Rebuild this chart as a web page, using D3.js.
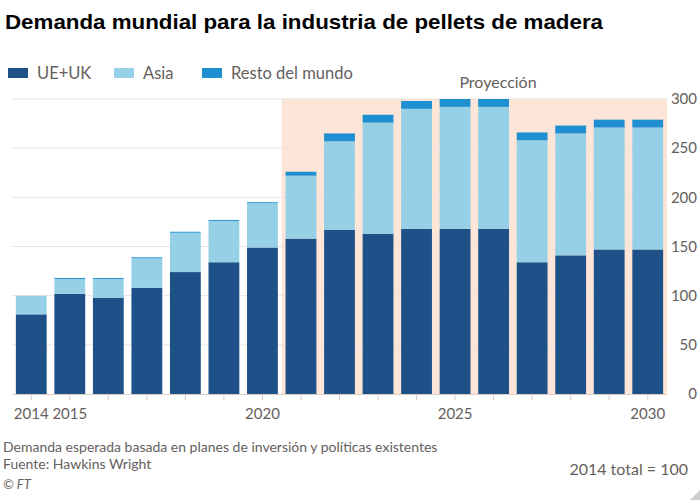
<!DOCTYPE html>
<html>
<head>
<meta charset="utf-8">
<script src="https://cdn.jsdelivr.net/npm/d3@7"></script>
<style>
  body { margin: 0; background: #fff; }
  svg text { font-family: Lato, "Open Sans", sans-serif; fill: #66605c; }
</style>
</head>
<body>
<div id="chart"></div>
<script>
// Data (2014 total = 100)
const years = [2014, 2015, 2016, 2017, 2018, 2019, 2020, 2021, 2022, 2023, 2024, 2025, 2026, 2027, 2028, 2029, 2030];
const ueUk  = [81, 102, 98, 108, 124, 134, 149, 158, 167, 163, 168, 168, 168, 134, 141, 147, 147];
const asia  = [19, 15, 19, 30, 40, 42, 45, 64, 90, 113, 122, 124, 124, 124, 124, 124, 124];
const resto = [0, 1, 1, 1, 1, 1, 1, 4, 8, 8, 8, 8, 8, 8, 8, 8, 8];
const seriesNames = ["UE+UK", "Asia", "Resto del mundo"];
const colors = ["#1f5189", "#96d0e6", "#1e8fd0"];
const yTicks = [0, 50, 100, 150, 200, 250, 300];
const xLabels = [2014, 2015, 2020, 2025, 2030];
const projectionStart = 2021;

const width = 700, height = 500;
const svg = d3.select("#chart").append("svg")
    .attr("width", width)
    .attr("height", height);

const x = d3.scaleBand()
    .domain(years)
    .range([12, 667])
    .paddingInner(0.2)
    .paddingOuter(0.1);

const y = d3.scaleLinear()
    .domain([0, 300])
    .range([394, 99]);

// Title
svg.append("text")
    .attr("x", 5)
    .attr("y", 29)
    .attr("textLength", 598)
    .attr("lengthAdjust", "spacingAndGlyphs")
    .style("font-family", "'Liberation Sans', Arial, sans-serif")
    .style("font-weight", "bold")
    .style("font-size", "21px")
    .style("fill", "#000")
    .text("Demanda mundial para la industria de pellets de madera");

// Legend
const legendX = [8, 114, 202];
seriesNames.forEach((name, i) => {
    svg.append("rect")
        .attr("x", legendX[i])
        .attr("y", 68)
        .attr("width", 20)
        .attr("height", 10)
        .attr("fill", colors[i]);
    svg.append("text")
        .attr("x", legendX[i] + 29)
        .attr("y", 79)
        .style("font-size", "16.5px")
        .text(name);
});

// Projection shading
const shadeX = x(projectionStart) - x.step() * x.paddingInner() / 2;
svg.append("rect")
    .attr("x", shadeX)
    .attr("y", y(300))
    .attr("width", x.range()[1] - shadeX)
    .attr("height", y(0) - y(300))
    .attr("fill", "#fde5d8");

svg.append("text")
    .attr("x", 498)
    .attr("y", 88)
    .attr("text-anchor", "middle")
    .style("font-size", "16px")
    .text("Proyección");

// Gridlines
svg.append("g")
    .selectAll("line")
    .data(yTicks.filter(d => d > 0))
    .join("line")
    .attr("x1", x.range()[0])
    .attr("x2", x.range()[1])
    .attr("y1", d => y(d))
    .attr("y2", d => y(d))
    .attr("stroke", "#eee3dc")
    .attr("stroke-width", 1);

// Stacked bars
const rows = years.map((yr, i) => ({ year: yr, a: ueUk[i], b: asia[i], c: resto[i] }));
const stack = d3.stack().keys(["a", "b", "c"]);
const layers = stack(rows);

svg.append("g")
    .selectAll("g")
    .data(layers)
    .join("g")
    .attr("fill", (d, i) => colors[i])
    .selectAll("rect")
    .data(d => d)
    .join("rect")
    .attr("x", d => x(d.data.year))
    .attr("width", x.bandwidth())
    .attr("y", d => y(d[1]))
    .attr("height", d => Math.max(0, y(d[0]) - y(d[1])));

// X axis baseline and ticks
const xAxis = d3.axisBottom(x)
    .tickSize(6)
    .tickSizeOuter(0)
    .tickFormat(d => xLabels.includes(d) ? d : "");

const gx = svg.append("g")
    .attr("transform", `translate(0,${y(0)})`)
    .call(xAxis);
gx.select(".domain").attr("stroke", "#d9cdc4").attr("d", `M${x.range()[0]},0.5H${x.range()[1]}`);
gx.selectAll(".tick line").attr("stroke", "#d9cdc4");
gx.selectAll(".tick text")
    .attr("y", 25)
    .attr("dy", 0)
    .style("font-size", "15px")
    .style("font-family", "Lato, 'Open Sans', sans-serif")
    .attr("fill", "#66605c");

// Y axis labels on the right
const yAxis = d3.axisRight(y)
    .tickValues(yTicks)
    .tickSize(0)
    .tickPadding(0);
const gy = svg.append("g")
    .attr("transform", "translate(697,0)")
    .call(yAxis);
gy.select(".domain").remove();
gy.selectAll(".tick text")
    .attr("text-anchor", "end")
    .attr("x", 0)
    .style("font-size", "15px")
    .style("font-family", "Lato, 'Open Sans', sans-serif")
    .attr("fill", "#66605c");

// Footer
svg.append("text")
    .attr("x", 3)
    .attr("y", 452)
    .style("font-size", "14px")
    .text("Demanda esperada basada en planes de inversión y políticas existentes");
svg.append("text")
    .attr("x", 3)
    .attr("y", 469)
    .style("font-size", "14px")
    .text("Fuente: Hawkins Wright");
svg.append("text")
    .attr("x", 3)
    .attr("y", 489)
    .style("font-size", "13px")
    .style("font-style", "italic")
    .text("© FT");
svg.append("text")
    .attr("x", 688)
    .attr("y", 475)
    .attr("text-anchor", "end")
    .style("font-size", "16px")
    .text("2014 total = 100");

// corner mark
svg.append("path")
    .attr("d", "M700,490L700,500L690,500Z")
    .attr("fill", "#ccc");
</script>
</body>
</html>
